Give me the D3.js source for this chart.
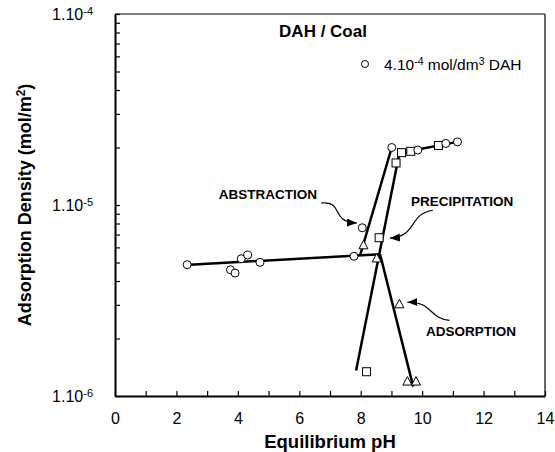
<!DOCTYPE html>
<html>
<head>
<meta charset="utf-8">
<script src="https://cdn.jsdelivr.net/npm/d3@7/dist/d3.min.js"></script>
<style>
  body { margin: 0; background: #fff; }
  svg { display: block; font-family: "Liberation Sans", Arial, sans-serif; }
</style>
</head>
<body>
<div id="chart"></div>
<script>
// --- data ---
var circlePH = [2.35, 3.76, 3.91, 4.11, 4.32, 4.72, 7.78, 8.05, 9.01, 9.86, 10.77, 11.15];
var circleAD = [4.87e-6, 4.58e-6, 4.40e-6, 5.23e-6, 5.47e-6, 5.01e-6, 5.39e-6, 7.6e-6, 2.0e-5, 1.94e-5, 2.10e-5, 2.14e-5];

var squarePH = [8.19, 8.60, 9.15, 9.33, 9.63, 10.53];
var squareAD = [1.34e-6, 6.74e-6, 1.66e-5, 1.88e-5, 1.91e-5, 2.05e-5];

var trianglePH = [8.09, 8.52, 9.26, 9.52, 9.80];
var triangleAD = [6.15e-6, 5.25e-6, 3.02e-6, 1.19e-6, 1.19e-6];

// fitted straight lines (start / end)
var fitStartPH = [2.44, 7.98, 7.85, 8.63, 9.26];
var fitStartAD = [4.87e-6, 5.45e-6, 1.36e-6, 5.52e-6, 1.87e-5];
var fitEndPH = [8.63, 9.01, 9.26, 9.71, 11.15];
var fitEndAD = [5.52e-6, 2.0e-5, 1.87e-5, 1.12e-6, 2.14e-5];

var xTicks = [0, 2, 4, 6, 8, 10, 12, 14];
var yDecades = [1e-6, 1e-5, 1e-4];
var yDecadeExp = ["-6", "-5", "-4"];

// annotations: label position and arrow tip (data space)
var annText = ["ABSTRACTION", "PRECIPITATION", "ADSORPTION"];
var annLabelPH = [4.98, 11.30, 11.59];
var annLabelAD = [1.075e-5, 9.88e-6, 2.06e-6];
var annTipPH = [7.88, 8.95, 9.52];
var annTipAD = [8.05e-6, 6.70e-6, 3.095e-6];

// arrow curve shapes, pixel offsets from tip: start, c1, c2
var annCurve = [
  [[-36, -20], [-12, -22], [-28, -1]],
  [[43, -28], [18, -24], [28, -2]],
  [[42, 18], [21, 16], [25, -1]]
];

var W = 555, H = 452;
var margin = {top: 14, right: 10, bottom: 56, left: 115};

var svg = d3.select("#chart").append("svg")
  .attr("width", W).attr("height", H);

var x = d3.scaleLinear().domain([0, 14]).range([margin.left, W - margin.right]);
var y = d3.scaleLog().domain([1e-6, 1e-4]).range([H - margin.bottom, margin.top]);

var x0 = x.range()[0], x1 = x.range()[1], y0 = y.range()[0], y1 = y.range()[1];

// frame (top and right)
svg.append("line").attr("x1", x0).attr("x2", x1).attr("y1", y1).attr("y2", y1)
  .attr("stroke", "#555").attr("stroke-width", 1.5);
svg.append("line").attr("x1", x1).attr("x2", x1).attr("y1", y1).attr("y2", y0)
  .attr("stroke", "#333").attr("stroke-width", 1.5);

// x axis
var xAxis = d3.axisBottom(x).tickValues(d3.range(0, 15)).tickSizeInner(-5).tickSizeOuter(0)
  .tickPadding(17)
  .tickFormat(function(d){ return xTicks.indexOf(d) >= 0 ? d : ""; });
var gx = svg.append("g").attr("transform", "translate(0," + y0 + ")").call(xAxis);
gx.select(".domain").attr("stroke", "#000").attr("stroke-width", 2);
gx.selectAll(".tick line").attr("stroke", "#000").attr("stroke-width", 1.2);
gx.selectAll(".tick text").attr("font-size", 16).attr("fill", "#000")
  .attr("font-family", "Liberation Sans, Arial, sans-serif");

// y axis
var yAxis = d3.axisLeft(y).tickValues(y.ticks()).tickSizeInner(-5).tickSizeOuter(0)
  .tickFormat(function(){ return ""; });
var gy = svg.append("g").attr("transform", "translate(" + x0 + ",0)").call(yAxis);
gy.select(".domain").attr("stroke", "#000").attr("stroke-width", 2);
gy.selectAll(".tick line").attr("stroke", "#000").attr("stroke-width", 1.2);

var yLab = svg.append("g").selectAll("text").data(yDecades).enter().append("text")
  .attr("x", x0 - 22)
  .attr("y", function(d){ return y(d) + 6; })
  .attr("text-anchor", "end")
  .attr("font-size", 16)
  .attr("fill", "#000");
yLab.append("tspan").text("1.10");
yLab.append("tspan").attr("dy", -5).attr("font-size", 11)
  .text(function(d, i){ return yDecadeExp[i]; });

// axis titles
svg.append("text")
  .attr("x", (x0 + x1) / 2).attr("y", 448)
  .attr("text-anchor", "middle").attr("font-size", 18.5).attr("font-weight", "bold")
  .text("Equilibrium pH");

var yt = svg.append("text")
  .attr("transform", "translate(31," + ((y0 + y1) / 2) + ") rotate(-90)")
  .attr("text-anchor", "middle").attr("font-size", 18).attr("font-weight", "bold");
yt.append("tspan").text("Adsorption Density (mol/m");
yt.append("tspan").attr("dy", -6).attr("font-size", 12).text("2");
yt.append("tspan").attr("dy", 6).text(")");

// fitted lines
var fits = d3.range(fitStartPH.length);
svg.append("g").selectAll("line").data(fits).enter().append("line")
  .attr("x1", function(i){ return x(fitStartPH[i]); })
  .attr("y1", function(i){ return y(fitStartAD[i]); })
  .attr("x2", function(i){ return x(fitEndPH[i]); })
  .attr("y2", function(i){ return y(fitEndAD[i]); })
  .attr("stroke", "#000").attr("stroke-width", 2.5).attr("stroke-linecap", "butt");

// markers
svg.append("g").selectAll("rect").data(d3.range(squarePH.length)).enter().append("rect")
  .attr("x", function(i){ return x(squarePH[i]) - 4; })
  .attr("y", function(i){ return y(squareAD[i]) - 4; })
  .attr("width", 8).attr("height", 8)
  .attr("fill", "#fff").attr("stroke", "#000").attr("stroke-width", 1);

svg.append("g").selectAll("path").data(d3.range(trianglePH.length)).enter().append("path")
  .attr("d", function(i){
    var cx = x(trianglePH[i]), cy = y(triangleAD[i]);
    return "M" + cx + "," + (cy - 5) + "L" + (cx + 4.5) + "," + (cy + 3.5) + "L" + (cx - 4.5) + "," + (cy + 3.5) + "Z";
  })
  .attr("fill", "#fff").attr("stroke", "#000").attr("stroke-width", 1);

svg.append("g").selectAll("circle").data(d3.range(circlePH.length)).enter().append("circle")
  .attr("cx", function(i){ return x(circlePH[i]); })
  .attr("cy", function(i){ return y(circleAD[i]); })
  .attr("r", 4)
  .attr("fill", "#fff").attr("stroke", "#000").attr("stroke-width", 1);

// title and legend
svg.append("text").attr("x", 323).attr("y", 37).attr("text-anchor", "middle")
  .attr("font-size", 17).attr("font-weight", "bold").text("DAH / Coal");

svg.append("circle").attr("cx", 365).attr("cy", 64).attr("r", 3.5)
  .attr("fill", "#fff").attr("stroke", "#000").attr("stroke-width", 1);
var lg = svg.append("text").attr("x", 384).attr("y", 70).attr("font-size", 15.5);
lg.append("tspan").text("4.10");
lg.append("tspan").attr("dy", -5).attr("font-size", 10.5).text("-4");
lg.append("tspan").attr("dy", 5).text(" mol/dm");
lg.append("tspan").attr("dy", -5).attr("font-size", 10.5).text("3");
lg.append("tspan").attr("dy", 5).text(" DAH");

// annotations
svg.append("defs").append("marker")
  .attr("id", "arrow").attr("markerUnits", "userSpaceOnUse")
  .attr("markerWidth", 11).attr("markerHeight", 9)
  .attr("refX", 10).attr("refY", 4).attr("orient", "auto")
  .append("path").attr("d", "M0,0L10,4L0,8Z").attr("fill", "#000");

annText.forEach(function(t, i){
  svg.append("text")
    .attr("x", x(annLabelPH[i])).attr("y", y(annLabelAD[i]))
    .attr("text-anchor", "middle").attr("font-size", 13.5).attr("font-weight", "bold")
    .text(t);
  var tx = x(annTipPH[i]), ty = y(annTipAD[i]), c = annCurve[i];
  var p = d3.path();
  p.moveTo(tx + c[0][0], ty + c[0][1]);
  p.bezierCurveTo(tx + c[1][0], ty + c[1][1], tx + c[2][0], ty + c[2][1], tx, ty);
  svg.append("path").attr("d", p.toString())
    .attr("fill", "none").attr("stroke", "#000").attr("stroke-width", 1.2)
    .attr("marker-end", "url(#arrow)");
});
</script>
</body>
</html>
